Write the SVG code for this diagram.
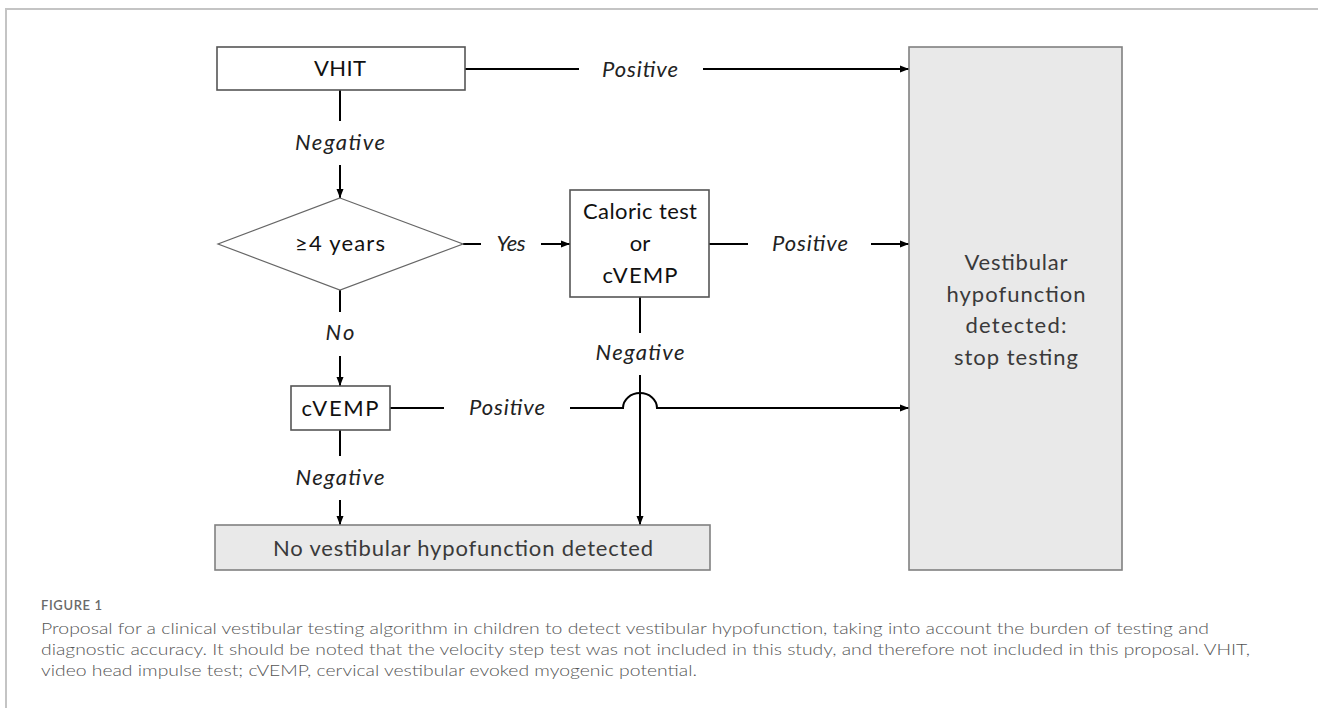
<svg xmlns="http://www.w3.org/2000/svg" width="1318" height="708" viewBox="0 0 1318 708">
<defs>
<marker id="ah" markerWidth="10" markerHeight="10" refX="9" refY="5" orient="auto" markerUnits="userSpaceOnUse">
<path d="M0,1.5 L9,5 L0,8.5 Z" fill="#000"/>
</marker>
<style>
.box{fill:#fff;stroke:#555;stroke-width:1.6}
.gbox{fill:#e9e9e9;stroke:#808080;stroke-width:1.6}
.dia{fill:#fff;stroke:#666;stroke-width:1.2}
.nt{font-family:Lato,"Open Sans","Liberation Sans",sans-serif;font-size:22px;fill:#111;text-anchor:middle}
.gt{font-family:Lato,"Open Sans","Liberation Sans",sans-serif;font-size:22px;fill:#3a3a3a;text-anchor:middle}
.lbl{font-family:Lato,"Open Sans","Liberation Sans",sans-serif;font-size:22px;font-style:italic;fill:#222;text-anchor:middle}
.ln{fill:none;stroke:#000;stroke-width:2}
.arr{fill:none;stroke:#000;stroke-width:2;marker-end:url(#ah)}
.cap{font-family:Lato,"Open Sans","Liberation Sans",sans-serif;font-size:16px;font-weight:300;fill:#555}
.capt{font-family:Lato,"Open Sans","Liberation Sans",sans-serif;font-size:13px;font-weight:600;fill:#6a6a6a}
</style>
</defs>
<rect width="1318" height="708" fill="#fff"/>
<path d="M6,708 V9 H1318" fill="none" stroke="#c4c4c4" stroke-width="2"/>

<g id="connectors">
<line class="ln" x1="465" y1="69" x2="579" y2="69"/>
<line class="arr" x1="703" y1="69" x2="909" y2="69"/>
<line class="ln" x1="340" y1="90" x2="340" y2="121"/>
<line class="arr" x1="340" y1="165" x2="340" y2="198"/>
<line class="ln" x1="463" y1="244" x2="481" y2="244"/>
<line class="arr" x1="541" y1="244" x2="570" y2="244"/>
<line class="ln" x1="709" y1="244" x2="748" y2="244"/>
<line class="arr" x1="871" y1="244" x2="909" y2="244"/>
<line class="ln" x1="640" y1="297" x2="640" y2="333"/>
<line class="arr" x1="640" y1="375" x2="640" y2="525"/>
<line class="ln" x1="340" y1="290" x2="340" y2="312"/>
<line class="arr" x1="340" y1="356" x2="340" y2="386"/>
<line class="ln" x1="390" y1="408" x2="444" y2="408"/>
<path class="arr" d="M570,408 H623 A17 15 0 0 1 657 408 H909"/>
<line class="ln" x1="340" y1="430" x2="340" y2="456"/>
<line class="arr" x1="340" y1="500" x2="340" y2="525"/>
<text class="lbl" x="640" y="77" textLength="76">Positive</text>
<text class="lbl" x="340" y="150" textLength="90">Negative</text>
<text class="lbl" x="511" y="251" textLength="29">Yes</text>
<text class="lbl" x="810" y="251" textLength="76">Positive</text>
<text class="lbl" x="640" y="360" textLength="89">Negative</text>
<text class="lbl" x="340" y="340" textLength="29">No</text>
<text class="lbl" x="507" y="415" textLength="76">Positive</text>
<text class="lbl" x="340" y="485" textLength="89">Negative</text>
</g>

<g id="vhit">
<rect class="box" x="217" y="47" width="248" height="43"/>
<text class="nt" x="340" y="76" textLength="52">VHIT</text>
</g>

<g id="age">
<polygon class="dia" points="340,198 463,244 340,290 218,244"/>
<text class="nt" x="340" y="251" textLength="90">≥4 years</text>
</g>

<g id="caloric">
<rect class="box" x="570" y="190" width="139" height="107"/>
<text class="nt" x="640" y="219" textLength="114">Caloric test</text>
<text class="nt" x="640" y="251">or</text>
<text class="nt" x="640" y="283" textLength="75">cVEMP</text>
</g>

<g id="cvemp">
<rect class="box" x="291" y="386" width="99" height="44"/>
<text class="nt" x="340" y="416" textLength="77">cVEMP</text>
</g>

<g id="none">
<rect class="gbox" x="215" y="525" width="495" height="45"/>
<text class="gt" x="463" y="556" textLength="380">No vestibular hypofunction detected</text>
</g>

<g id="detected">
<rect class="gbox" x="909" y="47" width="213" height="523"/>
<text class="gt" x="1016" y="270" textLength="103">Vestibular</text>
<text class="gt" x="1016" y="302" textLength="139">hypofunction</text>
<text class="gt" x="1016" y="333" textLength="101">detected:</text>
<text class="gt" x="1016" y="365" textLength="124">stop testing</text>
</g>

<g id="caption">
<text class="capt" x="41" y="610" textLength="61">FIGURE 1</text>
<text class="cap" x="41" y="634" textLength="1168" lengthAdjust="spacingAndGlyphs">Proposal for a clinical vestibular testing algorithm in children to detect vestibular hypofunction, taking into account the burden of testing and</text>
<text class="cap" x="41" y="655" textLength="1209" lengthAdjust="spacingAndGlyphs">diagnostic accuracy. It should be noted that the velocity step test was not included in this study, and therefore not included in this proposal. VHIT,</text>
<text class="cap" x="41" y="676" textLength="656" lengthAdjust="spacingAndGlyphs">video head impulse test; cVEMP, cervical vestibular evoked myogenic potential.</text>
</g>
</svg>
